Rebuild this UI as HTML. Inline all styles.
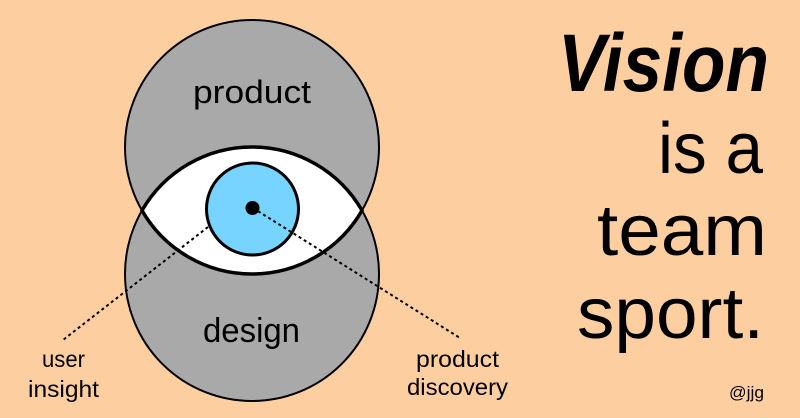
<!DOCTYPE html>
<html>
<head>
<meta charset="utf-8">
<style>
  html, body { margin: 0; padding: 0; background: #fdcea0; }
  body { width: 800px; height: 418px; overflow: hidden; }
  svg { display: block; }
  text { font-family: "Liberation Sans", sans-serif; fill: #000; }
</style>
</head>
<body>
<svg width="800" height="418" viewBox="0 0 800 418" xmlns="http://www.w3.org/2000/svg">
  <rect x="0" y="0" width="800" height="418" fill="#fdcea0"/>

  <!-- circles -->
  <circle cx="252" cy="147" r="127" fill="#a9a9a9" stroke="#000" stroke-width="2"/>
  <circle cx="252" cy="274" r="127" fill="#a9a9a9" stroke="#000" stroke-width="2"/>

  <!-- lens / eye -->
  <path d="M142,210.5 A127,127 0 0 1 362,210.5 A127,127 0 0 1 142,210.5 Z" fill="#ffffff" stroke="#000" stroke-width="3.5" stroke-linejoin="miter"/>

  <!-- iris -->
  <circle cx="252.5" cy="209" r="46" fill="#76d4fe" stroke="#000" stroke-width="3"/>

  <!-- dotted connectors -->
  <line x1="208" y1="227" x2="63" y2="340" stroke="#000" stroke-width="2" stroke-dasharray="3 3"/>
  <line x1="253" y1="208" x2="460" y2="338" stroke="#000" stroke-width="2" stroke-dasharray="3 3"/>

  <!-- pupil -->
  <circle cx="252.5" cy="208" r="7" fill="#000"/>

  <!-- circle labels -->
  <text x="193" y="103" font-size="32" textLength="118" lengthAdjust="spacingAndGlyphs">product</text>
  <text x="203" y="342" font-size="34" textLength="97" lengthAdjust="spacingAndGlyphs">design</text>

  <!-- connector labels -->
  <text x="42" y="367" font-size="23" textLength="43" lengthAdjust="spacingAndGlyphs">user</text>
  <text x="28" y="397" font-size="23" textLength="71" lengthAdjust="spacingAndGlyphs">insight</text>
  <text x="416" y="367" font-size="23" textLength="83" lengthAdjust="spacingAndGlyphs">product</text>
  <text x="407" y="395" font-size="23" textLength="101" lengthAdjust="spacingAndGlyphs">discovery</text>

  <!-- headline -->
  <text x="558" y="91" font-size="82" font-weight="bold" font-style="italic" textLength="211" lengthAdjust="spacingAndGlyphs">Vision</text>
  <text x="658" y="173" font-size="72" textLength="105" lengthAdjust="spacingAndGlyphs">is a</text>
  <text x="597" y="255" font-size="72" textLength="170" lengthAdjust="spacingAndGlyphs">team</text>
  <text x="577" y="338" font-size="72" textLength="187" lengthAdjust="spacingAndGlyphs">sport.</text>

  <text x="729" y="398" font-size="17" textLength="35" lengthAdjust="spacingAndGlyphs">@jjg</text>
</svg>
</body>
</html>
